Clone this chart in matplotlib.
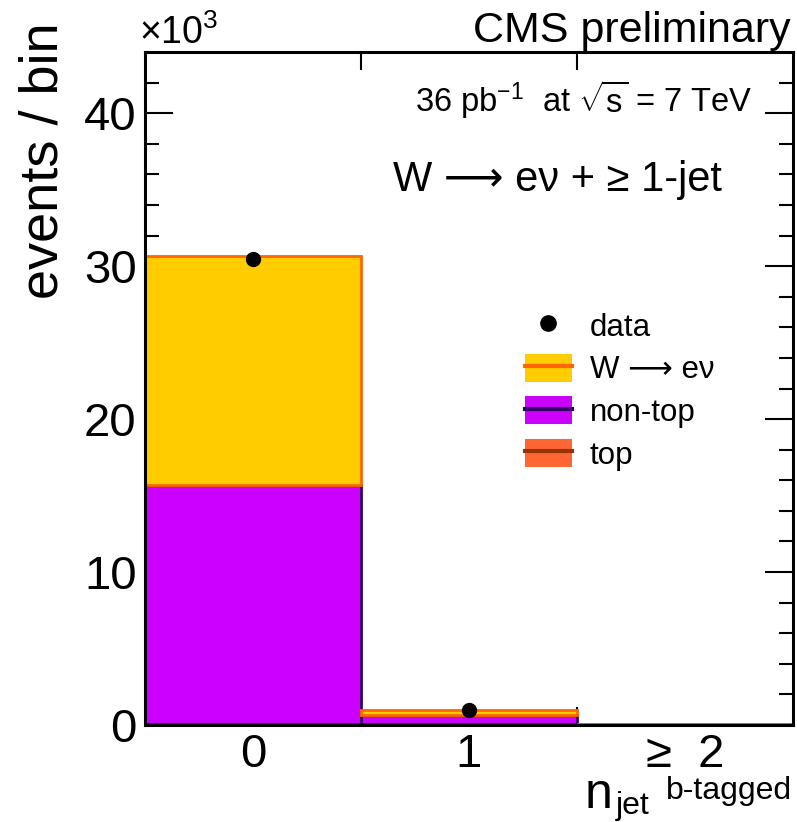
import numpy as np
import matplotlib
matplotlib.use("Agg")
import matplotlib.pyplot as plt
from matplotlib.patches import Rectangle
from matplotlib.lines import Line2D

plt.rcParams['font.family'] = ['Liberation Sans', 'DejaVu Sans']
plt.rcParams['mathtext.fontset'] = 'custom'
plt.rcParams['mathtext.rm'] = 'Liberation Sans'
plt.rcParams['mathtext.it'] = 'Liberation Sans'

# values in units of 10^3 events
bins = [0, 1, 2]
bin_labels = ["0", "1", "\u2265  2"]
top = [0.05, 0.08, 0.03]
non_top = [15.66, 0.57, 0.02]
w_enu = [14.93, 0.32, 0.01]
data = [30.44, 0.98, 0.03]

fig = plt.figure(figsize=(7.97, 8.22), dpi=100)
ax = fig.add_axes([0.1819, 0.118, 0.8131, 0.8187])

x = np.array(bins)
b0 = np.zeros(3)
b1 = b0 + np.array(top)
b2 = b1 + np.array(non_top)
ax.bar(x, top, bottom=b0, width=1.0, color='#ff6633', edgecolor='#993300', linewidth=2, zorder=2)
ax.bar(x, non_top, bottom=b1, width=1.0, color='#cc00ff', edgecolor='#330066', linewidth=2, zorder=2)
ax.bar(x, w_enu, bottom=b2, width=1.0, color='#ffcc00', edgecolor='#ff6600', linewidth=2, zorder=2)
ax.errorbar(x[:2], data[:2], yerr=np.sqrt(np.array(data[:2]) * 1000) / 1000,
            fmt='o', color='black', markersize=10, elinewidth=1.5, capsize=0, zorder=5)

ax.set_xlim(-0.5, 2.5)
ax.set_ylim(0, 44)

ax.set_xticks(bins)
ax.set_xticklabels(bin_labels, fontsize=34)
ax.get_xticklabels()[2].set_x(1.95)
ax.set_xticks([0.5, 1.5], minor=True)
ax.tick_params(axis='x', which='major', length=0, pad=6)
ax.tick_params(axis='x', which='minor', direction='in', length=13, width=1.5, top=True, bottom=True)

ax.set_yticks([0, 10, 20, 30, 40])
ax.set_yticks(np.arange(0, 44, 2), minor=True)
ax.tick_params(axis='y', which='major', direction='in', length=20, width=1.5,
               left=True, right=True, labelsize=34, pad=6)
ax.tick_params(axis='y', which='minor', direction='in', length=10, width=1.5, left=True, right=True)

for s in ax.spines.values():
    s.set_linewidth(2.2)
    s.set_zorder(10)

fig.text(0.055, 0.805, "events / bin", fontsize=39, rotation=90, ha='center', va='center')

fig.text(0.174, 0.946, r"$\times$10$^{\mathregular{3}}$", fontsize=27, ha='left', va='baseline')
fig.text(0.992, 0.949, "CMS preliminary", fontsize=31, ha='right', va='baseline')

ax.text(0.417, 0.929, r"36 pb$^{\mathregular{-1}}$  at $\sqrt{\mathregular{s}}$ = 7 TeV", transform=ax.transAxes,
        fontsize=23.5, ha='left', va='center')
ax.text(0.383, 0.81, "W \u27f6 e\u03bd + \u2265 1-jet",
        transform=ax.transAxes, fontsize=30, ha='left', va='center')

# legend
handles = [
    Line2D([], [], marker='o', color='black', linestyle='none', markersize=11),
    (Rectangle((0, 0), 1, 1, facecolor='#ffcc00', edgecolor='none'), Line2D([], [], color='#ff6600', linewidth=3)),
    (Rectangle((0, 0), 1, 1, facecolor='#cc00ff', edgecolor='none'), Line2D([], [], color='#330066', linewidth=3)),
    (Rectangle((0, 0), 1, 1, facecolor='#ff6633', edgecolor='none'), Line2D([], [], color='#993300', linewidth=3)),
]
labels = ["data", "W \u27f6 e\u03bd", "non-top", "top"]
ax.legend(handles, labels, loc='upper left', bbox_to_anchor=(0.586, 0.615), frameon=False,
          fontsize=22.5, handlelength=1.5, handleheight=1.0, labelspacing=0.35, handletextpad=0.58,
          borderpad=0, borderaxespad=0)

# x axis title
fig.text(0.733, 0.017, "n", fontsize=36, ha='left', va='baseline')
fig.text(0.773, 0.010, "jet", fontsize=23, ha='left', va='baseline')
fig.text(0.836, 0.028, "b-tagged", fontsize=23, ha='left', va='baseline')

fig.savefig("out.png", dpi=100)
